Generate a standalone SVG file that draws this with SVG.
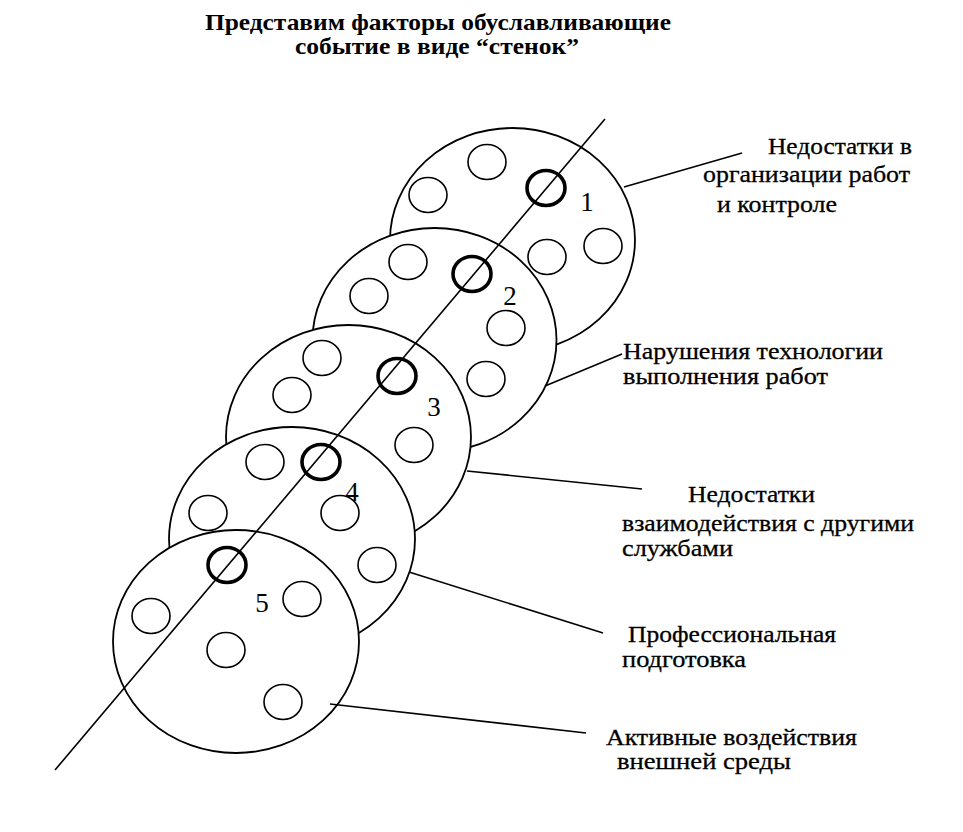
<svg xmlns="http://www.w3.org/2000/svg" width="963" height="832" viewBox="0 0 963 832">
<style>
.bg{fill:#ffffff}
.wall{fill:#ffffff;stroke:#000;stroke-width:1.8}
.hole{fill:none;stroke:#000;stroke-width:1.6}
.hit{fill:none;stroke:#000;stroke-width:3.6}
.num{font-family:"Liberation Serif","Times New Roman",serif;font-size:27px;fill:#000;text-anchor:middle}
.lbl{font-family:"Liberation Serif","Times New Roman",serif;font-size:24px;fill:#000;stroke:#000;stroke-width:0.3}
.ttl{font-family:"Liberation Serif","Times New Roman",serif;font-size:23px;font-weight:bold;fill:#000}
.lead{stroke:#000;stroke-width:1.6;fill:none}
</style>
<rect class="bg" x="0" y="0" width="963" height="832"/>
<g id="title">
<text class="ttl" x="205" y="30" textLength="466" lengthAdjust="spacingAndGlyphs">Представим факторы обуславливающие</text>
<text class="ttl" x="295" y="54" textLength="284" lengthAdjust="spacingAndGlyphs">событие в виде “стенок”</text>
</g>
<g id="wall1">
<ellipse class="wall" cx="512.5" cy="240" rx="122.5" ry="112"/>
<ellipse class="hole" cx="487" cy="162" rx="19" ry="17.5"/>
<ellipse class="hole" cx="428" cy="195" rx="19" ry="17.5"/>
<ellipse class="hole" cx="547" cy="257" rx="19" ry="17.5"/>
<ellipse class="hole" cx="603" cy="246" rx="19" ry="17.5"/>
<ellipse class="hit" cx="546" cy="188" rx="19" ry="17.5"/>
<text class="num" x="587" y="211">1</text>
</g>
<g id="wall2">
<ellipse class="wall" cx="434.5" cy="340" rx="122" ry="112"/>
<ellipse class="hole" cx="408" cy="262" rx="19" ry="17.5"/>
<ellipse class="hole" cx="369" cy="296" rx="19" ry="17.5"/>
<ellipse class="hole" cx="506" cy="328" rx="19" ry="17.5"/>
<ellipse class="hole" cx="486" cy="379" rx="19" ry="17.5"/>
<ellipse class="hit" cx="472" cy="274" rx="19" ry="17.5"/>
<text class="num" x="510" y="305">2</text>
</g>
<g id="wall3">
<ellipse class="wall" cx="348.5" cy="437" rx="122.5" ry="112"/>
<ellipse class="hole" cx="322" cy="358" rx="19" ry="17.5"/>
<ellipse class="hole" cx="292" cy="395" rx="19" ry="17.5"/>
<ellipse class="hole" cx="414" cy="445" rx="19" ry="17.5"/>
<ellipse class="hit" cx="397" cy="376" rx="19" ry="17.5"/>
<text class="num" x="434" y="416">3</text>
</g>
<g id="wall4">
<ellipse class="wall" cx="292" cy="539" rx="123" ry="112"/>
<ellipse class="hole" cx="265" cy="462" rx="19" ry="17.5"/>
<ellipse class="hole" cx="208" cy="513" rx="19" ry="17.5"/>
<ellipse class="hole" cx="340" cy="513" rx="19" ry="17.5"/>
<ellipse class="hole" cx="377" cy="565" rx="19" ry="17.5"/>
<ellipse class="hit" cx="321" cy="462" rx="19" ry="17.5"/>
<text class="num" x="352" y="501">4</text>
</g>
<g id="wall5">
<ellipse class="wall" cx="236" cy="641.5" rx="123" ry="111.5"/>
<ellipse class="hole" cx="151" cy="616" rx="19" ry="17.5"/>
<ellipse class="hole" cx="302" cy="599" rx="19" ry="17.5"/>
<ellipse class="hole" cx="226" cy="650" rx="19" ry="17.5"/>
<ellipse class="hole" cx="283" cy="702" rx="19" ry="17.5"/>
<ellipse class="hit" cx="227" cy="565" rx="19" ry="17.5"/>
<text class="num" x="262" y="612">5</text>
</g>
<g id="connectors">
<line class="lead" x1="605" y1="119" x2="55" y2="770"/>
<line class="lead" x1="624" y1="187" x2="742" y2="153"/>
<line class="lead" x1="545" y1="386" x2="622" y2="354"/>
<line class="lead" x1="467" y1="471" x2="642" y2="489"/>
<line class="lead" x1="409" y1="572" x2="603" y2="633"/>
<line class="lead" x1="330" y1="704" x2="586" y2="733"/>
</g>
<g id="label1">
<text class="lbl" x="768" y="154" textLength="144" lengthAdjust="spacingAndGlyphs">Недостатки в</text>
<text class="lbl" x="703" y="182" textLength="207" lengthAdjust="spacingAndGlyphs">организации работ</text>
<text class="lbl" x="717" y="212" textLength="120" lengthAdjust="spacingAndGlyphs">и контроле</text>
</g>
<g id="label2">
<text class="lbl" x="623" y="359" textLength="260" lengthAdjust="spacingAndGlyphs">Нарушения технологии</text>
<text class="lbl" x="623" y="384" textLength="205" lengthAdjust="spacingAndGlyphs">выполнения работ</text>
</g>
<g id="label3">
<text class="lbl" x="688" y="502" textLength="127" lengthAdjust="spacingAndGlyphs">Недостатки</text>
<text class="lbl" x="622" y="531" textLength="292" lengthAdjust="spacingAndGlyphs">взаимодействия с другими</text>
<text class="lbl" x="622" y="556" textLength="111" lengthAdjust="spacingAndGlyphs">службами</text>
</g>
<g id="label4">
<text class="lbl" x="628" y="642" textLength="208" lengthAdjust="spacingAndGlyphs">Профессиональная</text>
<text class="lbl" x="622" y="667" textLength="124" lengthAdjust="spacingAndGlyphs">подготовка</text>
</g>
<g id="label5">
<text class="lbl" x="606" y="745" textLength="251" lengthAdjust="spacingAndGlyphs">Активные воздействия</text>
<text class="lbl" x="617" y="769" textLength="174" lengthAdjust="spacingAndGlyphs">внешней среды</text>
</g>
</svg>
